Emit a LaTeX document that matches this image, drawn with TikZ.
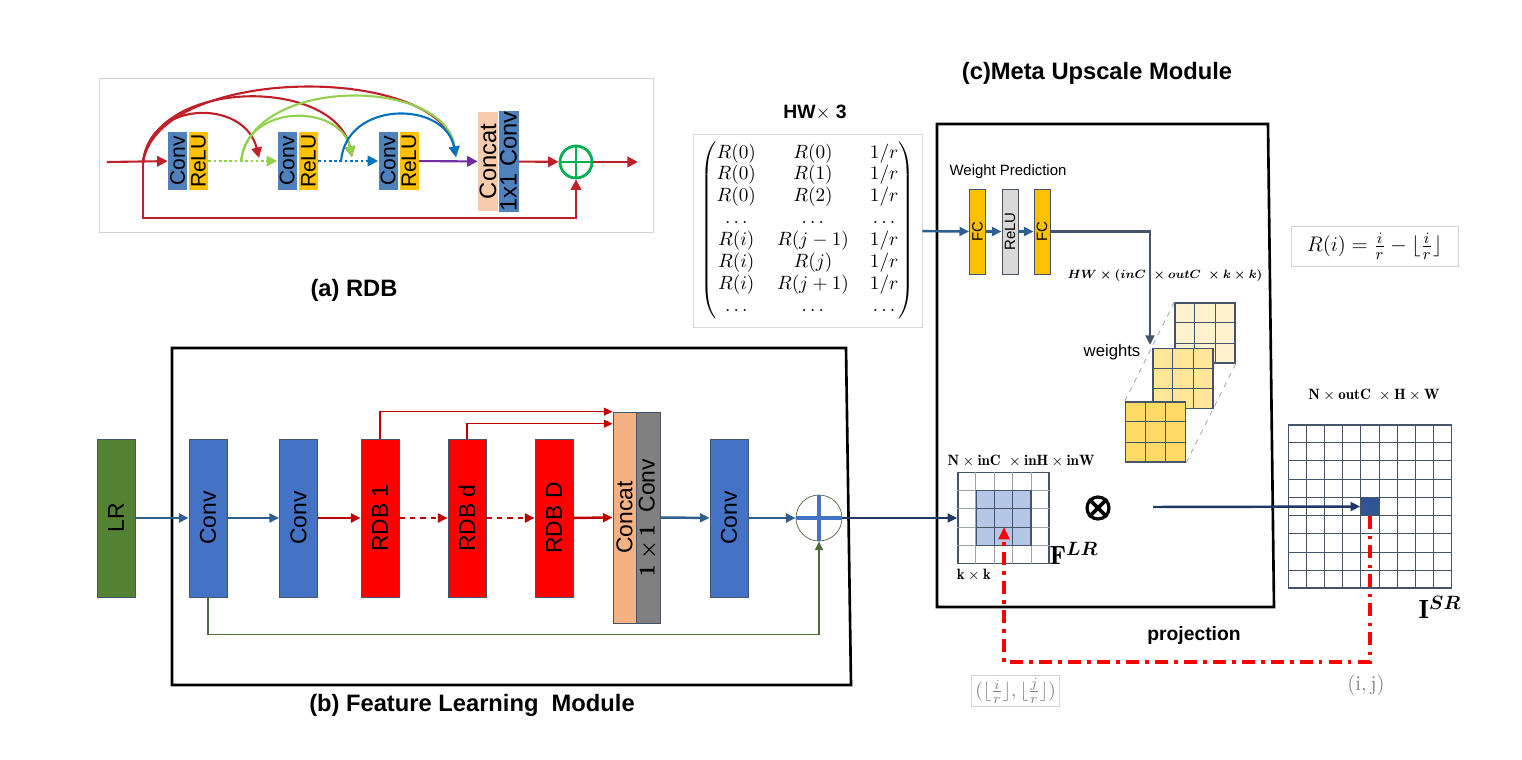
\documentclass[tikz,border=0pt]{standalone}
\usepackage{amsmath,amssymb}
\usepackage{graphicx}
\usepackage{fontspec}
\setsansfont{Liberation Sans}
\usepackage{xcolor}
\usepackage{tikz}
\usetikzlibrary{arrows.meta, calc, positioning}

% colours of panel (a)
\definecolor{aconv}{HTML}{4F81BD}
\definecolor{arelu}{HTML}{FFC000}
\definecolor{ared}{HTML}{C0202A}
\definecolor{agreen}{HTML}{92D050}
\definecolor{ablue}{HTML}{0070C0}
\definecolor{apurple}{HTML}{7030A0}
\definecolor{aplus}{HTML}{00B050}
\definecolor{apeach}{HTML}{F8CBAD}
% colours of panels (b), (c)
\definecolor{convblue}{HTML}{4472C4}
\definecolor{rdbred}{HTML}{FF0000}
\definecolor{arrred}{HTML}{C00000}
\definecolor{steel}{HTML}{2F5F8F}
\definecolor{navy}{HTML}{1F3864}
\definecolor{lrgreen}{HTML}{548235}
\definecolor{skipgreen}{HTML}{4E6B3A}
\definecolor{peach}{HTML}{F4B183}
\definecolor{slate}{HTML}{44546A}
\definecolor{wback}{HTML}{FFF2CC}
\definecolor{wmid}{HTML}{FFE699}
\definecolor{wfront}{HTML}{FFD966}
\definecolor{kblue}{HTML}{B4C7E7}
\definecolor{srblue}{HTML}{2F5597}

\tikzset{
  blk/.style={draw=slate, minimum width=0.76cm, minimum height=3.16cm, inner sep=0pt, font=\sffamily\fontsize{13}{15}\selectfont},
  sblk/.style={minimum width=0.38cm, minimum height=1.16cm, inner sep=0pt, font=\sffamily\fontsize{12}{14}\selectfont},
  fcblk/.style={draw=slate, minimum width=0.32cm, minimum height=1.7cm, inner sep=0pt, font=\sffamily\fontsize{8.5}{10}\selectfont},
  arr/.style={line width=1.4pt, -{Triangle[length=5.5pt,width=5pt]}},
  aarr/.style={line width=1.2pt, -{Triangle[length=6pt,width=6pt]}},
  cell/.style={draw=slate, line width=0.8pt, inner sep=0pt},
  proj/.style={draw=red, line width=2.2pt, dash pattern=on 7.5pt off 3.5pt on 2pt off 3.5pt},
  lbl/.style={font=\sffamily\bfseries\fontsize{13.5}{16}\selectfont},
  bmath/.style={font=\fontsize{8.5}{10}\selectfont},
}

% inner lines of a grid node: [colour]{node}{number of inner lines}
\newcommand{\gridlines}[3][slate]{%
  \foreach \k in {1,...,#3}{
    \pgfmathsetmacro{\fr}{\k/(#3+1)}
    \draw[#1, line width=0.6pt] ($(#2.north west)!\fr!(#2.north east)$) -- ($(#2.south west)!\fr!(#2.south east)$);
    \draw[#1, line width=0.6pt] ($(#2.north west)!\fr!(#2.south west)$) -- ($(#2.north east)!\fr!(#2.south east)$);
  }}

\begin{document}
\begin{tikzpicture}[x=0.02cm, y=-0.02cm]
\useasboundingbox (0,0) rectangle (1522,760);

% (a) RDB
\node[draw=gray!35, minimum width=11.08cm, minimum height=3.08cm] (rdbbox) at (376,155) {};
\node[sblk, fill=aconv] (ac1) at (177.5,161) {\rotatebox{90}{Conv}};
\node[sblk, fill=arelu] (ar1) at (198.5,161) {\rotatebox{90}{ReLU}};
\node[sblk, fill=aconv] (ac2) at (287,161) {\rotatebox{90}{Conv}};
\node[sblk, fill=arelu] (ar2) at (308.5,161) {\rotatebox{90}{ReLU}};
\node[sblk, fill=aconv] (ac3) at (388,161) {\rotatebox{90}{Conv}};
\node[sblk, fill=arelu] (ar3) at (409,161) {\rotatebox{90}{ReLU}};
\node[sblk, fill=apeach, minimum width=0.4cm, minimum height=1.98cm, font=\sffamily\fontsize{13.5}{15}\selectfont] (acat) at (488,161.5) {\rotatebox{90}{Concat}};
\node[sblk, fill=aconv, minimum width=0.4cm, minimum height=1.98cm, font=\sffamily\fontsize{13.5}{15}\selectfont] (a11) at (508.5,161.5) {\rotatebox{90}{1x1 Conv}};
\node[circle, draw=aplus, line width=1.6pt, minimum size=0.64cm, inner sep=0pt] (asum) at (576,162) {};
\draw[aplus, line width=1.6pt] (asum.north) -- (asum.south) (asum.west) -- (asum.east);
\coordinate (ain) at (107,162);
\coordinate (aout) at (638,162);
\coordinate (s1) at (143,162);
\coordinate (s2) at (241,162);
\coordinate (s3) at (341,162);
\coordinate (e1) at (259,158);
\coordinate (e2) at (352,157);
\coordinate (e3) at (456,157);
\coordinate (askip) at (143,218);

\draw[ared, aarr] (ain) -- (ac1);
\draw[agreen, aarr, dash pattern=on 1.5pt off 1.5pt] (ar1) -- (ac2);
\draw[ablue, aarr, dash pattern=on 1.5pt off 1.5pt] (ar2) -- (ac3);
\draw[apurple, aarr] (ar3) -- (acat);
\draw[ared, aarr] (a11) -- (asum);
\draw[ared, aarr] (asum) -- (aout);
\draw[ared, aarr] (s1) -- (askip) -| (asum.south);
\draw[ared, aarr] (s1) .. controls (150,99) and (245,99) .. (e1);
\draw[ared, aarr] (s1) .. controls (155,77) and (335,77) .. (e2);
\draw[ared, aarr] (s1) .. controls (160,64) and (440,64) .. (e3);
\draw[agreen, aarr] (s2) .. controls (245,103) and (340,103) .. (e2);
\draw[agreen, aarr] (s2) .. controls (250,76) and (445,76) .. (e3);
\draw[ablue, aarr] (s3) .. controls (345,100) and (445,100) .. (e3);
\node[lbl] (capa) at (354,290) {(a) RDB};

% (b) Feature Learning Module
\draw[line width=1.5pt] (172,348) -- (846,348) -- (851,685) -- (172,685) -- cycle;
\node[blk, fill=lrgreen] (lr) at (116,518) {\rotatebox{90}{LR}};
\node[blk, fill=convblue] (conv1) at (208,518) {\rotatebox{90}{Conv}};
\node[blk, fill=convblue] (conv2) at (298.5,518) {\rotatebox{90}{Conv}};
\node[blk, fill=rdbred] (rdb1) at (380,518) {\rotatebox{90}{RDB 1}};
\node[blk, fill=rdbred] (rdbd) at (467,518) {\rotatebox{90}{RDB d}};
\node[blk, fill=rdbred] (rdbD) at (554,518) {\rotatebox{90}{RDB D}};
\node[blk, fill=peach, minimum width=0.46cm, minimum height=4.22cm] (cat) at (624.5,517.5) {\rotatebox{90}{Concat}};
\node[blk, fill=gray, minimum width=0.48cm, minimum height=4.22cm] (cv11) at (648,517.5) {\rotatebox{90}{$\mathbf{1}\boldsymbol{\times}\mathbf{1}$ \ Conv}};
\node[blk, fill=convblue] (conv3) at (729,518) {\rotatebox{90}{Conv}};
\node[circle, draw=skipgreen, minimum size=0.92cm, inner sep=0pt] (add) at (819,518) {};
\draw[convblue, line width=2.2pt] (add.north) -- (add.south) (add.west) -- (add.east);

\draw[steel, arr] (lr) -- (conv1);
\draw[steel, arr] (conv1) -- (conv2);
\draw[arrred, arr] (conv2) -- (rdb1);
\draw[arrred, arr, dashed] (rdb1) -- (rdbd);
\draw[arrred, arr, dashed] (rdbd) -- (rdbD);
\draw[arrred, arr] (rdbD) -- (cat);
\draw[steel, arr] (cv11) -- (conv3);
\draw[steel, arr] (conv3) -- (add);
\draw[arrred, line width=0.9pt, -{Triangle[length=5pt,width=4.5pt]}] (rdb1.north) |- (cat.north west);
\draw[arrred, line width=0.9pt, -{Triangle[length=5pt,width=4.5pt]}] (rdbd.north) |- ($(cat.north west)+(0,12)$);
\draw[skipgreen, line width=0.9pt, -{Triangle[length=5pt,width=4.5pt]}] (conv1.south) -- ++(0,37) -| (add.south);
\node[lbl] (capb) at (472,705) {(b) Feature Learning\ \ Module};

% (c) Meta Upscale Module
\node[lbl] (capc) at (1097,73) {(c)Meta Upscale Module};
\node[font=\sffamily\bfseries\fontsize{11}{13}\selectfont] (hw3) at (815,113) {HW$\times$ 3};
\node[draw=gray!30, minimum width=4.58cm, minimum height=3.86cm, font=\fontsize{10.5}{12.5}\selectfont] (mat) at (807.5,230.5) {\setlength{\arraycolsep}{6pt}$\begin{pmatrix}
R(0) & R(0) & 1/r\\
R(0) & R(1) & 1/r\\
R(0) & R(2) & 1/r\\
\ldots & \ldots & \ldots\\
R(i) & R(j-1) & 1/r\\
R(i) & R(j) & 1/r\\
R(i) & R(j+1) & 1/r\\
\ldots & \ldots & \ldots
\end{pmatrix}$};
\draw[line width=1.5pt] (937,124) -- (1268,124) -- (1274,607) -- (937,607) -- cycle;

\node[font=\sffamily\fontsize{8.5}{10}\selectfont] (wp) at (1008,172) {Weight Prediction};
\node[fcblk, fill=arelu] (fc1) at (977.5,231.5) {\rotatebox{90}{FC}};
\node[fcblk, fill=gray!30] (relu) at (1010,231.5) {\rotatebox{90}{ReLU}};
\node[fcblk, fill=arelu] (fc2) at (1042,231.5) {\rotatebox{90}{FC}};
\coordinate (wtip) at (1150,345);
\draw[steel, arr] (mat) -- (fc1);
\draw[steel, arr] (fc1) -- (relu);
\draw[steel, arr] (relu) -- (fc2);
\draw[slate, arr] (fc2) -| (wtip);
\node[bmath, scale=0.85] (hwlab) at (1165,276) {$\boldsymbol{HW\times(inC\ \times outC\ \times k\times k)}$};

% weights
\node[cell, fill=wback, minimum size=1.2cm] (wb) at (1205,333) {};
\gridlines{wb}{2}
\node[cell, fill=wmid, minimum size=1.2cm] (wm) at (1183,378.5) {};
\gridlines{wm}{2}
\node[cell, fill=wfront, minimum size=1.2cm] (wf) at (1155.5,432) {};
\gridlines{wf}{2}
\draw[slate!60, dashed, line width=0.4pt] (wf.north west) -- (wb.north west);
\draw[slate!60, dashed, line width=0.4pt] (wf.south east) -- (wb.south east);
\node[font=\sffamily\fontsize{9.5}{11}\selectfont] (wlab) at (1112,352) {weights};

% F^LR
\node[cell, fill=white, minimum size=1.82cm] (flr) at (1003.5,518) {};
\gridlines[slate!55]{flr}{4}
\node[cell, fill=kblue, minimum size=1.092cm] (fk) at (1003.5,518) {};
\gridlines{fk}{2}
\node[bmath] (inlab) at (1021,461) {$\mathbf{N\times inC\ \times inH\times inW}$};
\node[bmath] (kklab) at (974,575) {$\mathbf{k\times k}$};
\node[font=\fontsize{15}{17}\selectfont] (flab) at (1074,553) {$\mathbf{F}^{\boldsymbol{LR}}$};
\node[circle, draw, line width=1.8pt, minimum size=0.44cm, inner sep=0pt] (mul) at (1098,508) {};
\draw[line width=2.2pt] (mul.45) -- (mul.225) (mul.135) -- (mul.315);
\draw[navy, line width=2pt, arr] (add) -- (flr);

% I^SR
\node[cell, line width=0.6pt, minimum size=3.26cm] (isr) at (1370,506.5) {};
\gridlines{isr}{8}
\node[cell, fill=srblue, minimum size=0.362cm] (srcell) at (1370,506.5) {};
\node[bmath] (outlab) at (1374,395) {$\mathbf{N\times outC\ \times H\times W}$};
\node[font=\fontsize{15}{17}\selectfont] (slab) at (1440,607) {$\mathbf{I}^{\boldsymbol{SR}}$};
\coordinate (prod) at (1153,507);
\draw[navy, line width=2.2pt, arr] (prod) -- (srcell);

\node[draw=gray!35, minimum width=3.34cm, minimum height=0.8cm, font=\fontsize{13}{15}\selectfont] (rdef) at (1374.5,246) {$R(i)=\frac{i}{r}-\lfloor\frac{i}{r}\rfloor$};

% projection
\coordinate (pl) at (1004,662);
\coordinate (ftip) at (1004,527);
\draw[proj, -{Triangle[length=7pt,width=6pt]}] (srcell.south) |- (pl) -- (ftip);
\node[font=\sffamily\bfseries\fontsize{11}{13}\selectfont] (projlab) at (1194,635) {projection};
\node[draw=gray!35, text=gray, inner sep=2pt, font=\fontsize{11}{13}\selectfont] (flbox) at (1015.5,691) {$(\lfloor\frac{i}{r}\rfloor,\lfloor\frac{j}{r}\rfloor)$};
\node[text=gray, font=\fontsize{12}{14}\selectfont] (ijlab) at (1366,685) {$(\mathrm{i},\mathrm{j})$};
\end{tikzpicture}
\end{document}
